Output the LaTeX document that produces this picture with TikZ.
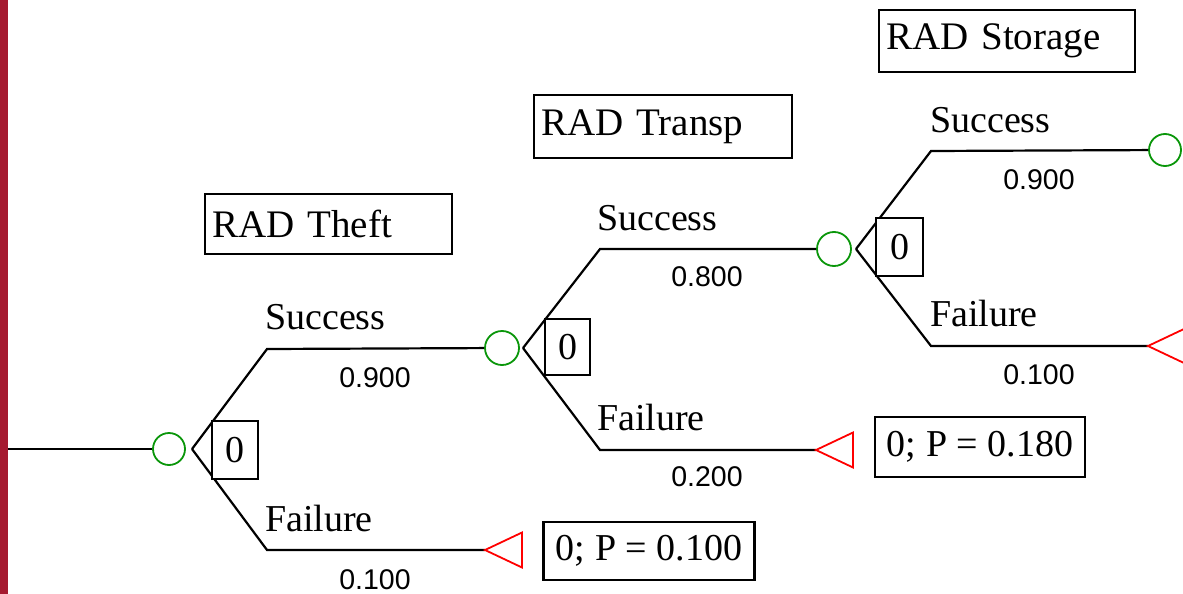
\documentclass[tikz,border=0pt]{standalone}
\usepackage{fontspec}
\setmainfont{Liberation Serif}
\newfontfamily\probfont{Liberation Sans}
\definecolor{barred}{RGB}{165,26,48}
\definecolor{chgreen}{RGB}{10,150,10}
\begin{document}
\begin{tikzpicture}[x=1pt,y=-1pt,
  branch/.style={line width=2.2pt, black},
  chance/.style={circle, draw=chgreen, line width=1.8pt, minimum size=32pt, inner sep=0pt},
  term/.style={draw=red, line width=1.8pt, line join=miter},
  decbox/.style={draw, line width=2.2pt, fill=white, minimum width=46pt, minimum height=58pt, inner sep=0pt, font=\fontsize{38}{40}\selectfont},
  paybox/.style={draw, line width=2.2pt, minimum width=211pt, minimum height=58pt, inner sep=0pt, font=\fontsize{38}{40}\selectfont},
  titlebox/.style={draw, line width=2.2pt, anchor=north west, inner xsep=7pt, inner ysep=0pt, align=left, font=\fontsize{39}{42}\selectfont},
  lbl/.style={anchor=base west, inner sep=0pt, font=\fontsize{38}{40}\selectfont},
  prob/.style={anchor=base, inner sep=0pt, font=\probfont\fontsize{28.5}{30}\selectfont}
]
\useasboundingbox (0,0) rectangle (1183,594);
\clip (0,0) rectangle (1183,594);

% ---- title boxes
\node[titlebox, text width=233pt, minimum height=60pt] (ttheft) at (204,193) {RAD Theft};
\node[titlebox, text width=244pt, minimum height=63pt] (ttransp) at (533,94) {RAD Transp};
\node[titlebox, text width=242pt, minimum height=62pt] (tstorage) at (878,9) {RAD Storage};

% ---- coordinates
\coordinate (start) at (7,449);
\coordinate (f1) at (192,449);
\coordinate (s1) at (267,349);
\coordinate (e1) at (267,550);
\coordinate (t1) at (485,550);
\coordinate (f2) at (523,348);
\coordinate (s2) at (600,249);
\coordinate (e2) at (600,450);
\coordinate (t2) at (816,450);
\coordinate (f3) at (856,249);
\coordinate (s3) at (931,151);
\coordinate (e3) at (931,346);
\coordinate (t3) at (1148,346);

% ---- chance nodes
\node[chance] (c1) at (169,449) {};
\node[chance, minimum size=34pt] (c2) at (502,348) {};
\node[chance, minimum size=34pt] (c3) at (834,249) {};
\node[chance] (c4) at (1165,150) {};

% ---- branches
\draw[branch] (start) -- (c1);
\draw[branch] (f1) -- (s1) -- (c2);
\draw[branch] (f1) -- (e1) -- (t1);
\draw[branch] (f2) -- (s2) -- (c3);
\draw[branch] (f2) -- (e2) -- (t2);
\draw[branch] (f3) -- (s3) -- (c4);
\draw[branch] (f3) -- (e3) -- (t3);

% ---- terminal triangles
\draw[term] (t1) -- ++(37,-17.5) -- ++(0,35) -- cycle;
\draw[term] (t2) -- ++(37,-17.5) -- ++(0,35) -- cycle;
\draw[term] (t3) -- ++(37,-17.5) -- ++(0,35) -- cycle;

% ---- decision value boxes
\node[decbox] (d1) at (235,450) {0};
\node[decbox, minimum width=45pt, minimum height=56pt] (d2) at (567.5,347) {0};
\node[decbox, minimum width=47pt] (d3) at (899.5,247) {0};

% ---- payoff boxes
\node[paybox] (b1) at (649,551) {0; P = 0.100};
\node[paybox, minimum width=210pt, minimum height=60pt] (b2) at (980,447) {0; P = 0.180};

% ---- branch labels
\node[lbl] (l1s) at (265,329) {Success};
\node[lbl] (l1f) at (265,531) {Failure};
\node[lbl] (l2s) at (597,230) {Success};
\node[lbl] (l2f) at (597,430) {Failure};
\node[lbl] (l3s) at (930,132) {Success};
\node[lbl] (l3f) at (930,326) {Failure};

% ---- probabilities
\node[prob] (p1s) at (375,387) {0.900};
\node[prob] (p1f) at (375,589) {0.100};
\node[prob] (p2s) at (707,286) {0.800};
\node[prob] (p2f) at (707,486) {0.200};
\node[prob] (p3s) at (1039,189) {0.900};
\node[prob] (p3f) at (1039,384) {0.100};

% ---- left bar
\fill[barred] (0,0) rectangle (7.5,594);
\end{tikzpicture}
\end{document}
